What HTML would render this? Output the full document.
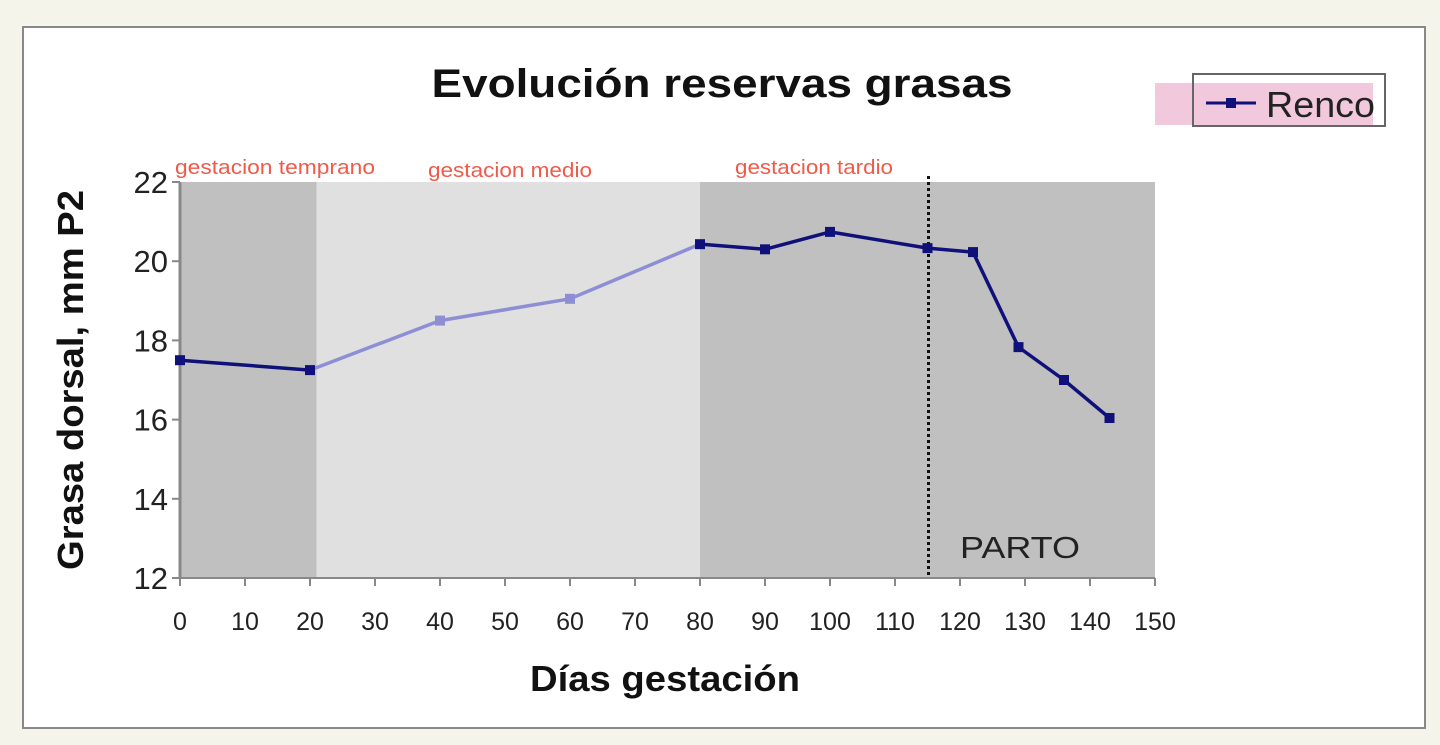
<!DOCTYPE html>
<html><head><meta charset="utf-8"><style>
html,body{margin:0;padding:0;background:#f4f4ea;width:1440px;height:745px;overflow:hidden}
svg{display:block;font-family:"Liberation Sans",sans-serif}
</style></head><body>
<svg width="1440" height="745">
<rect x="23" y="27" width="1402" height="701" fill="#fff" stroke="#888" stroke-width="2"/>
<text x="722" y="97" text-anchor="middle" font-size="40" font-weight="bold" fill="#111" textLength="581" lengthAdjust="spacingAndGlyphs">Evolución reservas grasas</text>
<g>
<rect x="1155" y="83" width="218" height="42" fill="#f2c8dc"/>
<rect x="1193" y="74" width="192" height="52" fill="none" stroke="#666" stroke-width="2"/>
<line x1="1206" y1="103" x2="1256" y2="103" stroke="#10107a" stroke-width="3"/>
<rect x="1226" y="98" width="10" height="10" fill="#10107a"/>
<text x="1266" y="117" font-size="36" fill="#222" textLength="109" lengthAdjust="spacingAndGlyphs">Renco</text>
</g>
<g id="plot"></g>
<text x="960" y="558" font-size="31" fill="#222" textLength="120" lengthAdjust="spacingAndGlyphs">PARTO</text>
<text transform="translate(83,380) rotate(-90)" text-anchor="middle" font-size="36" font-weight="bold" fill="#111" textLength="380" lengthAdjust="spacingAndGlyphs">Grasa dorsal, mm P2</text>
<text x="665" y="691" text-anchor="middle" font-size="36" font-weight="bold" fill="#111" textLength="270" lengthAdjust="spacingAndGlyphs">Días gestación</text>
</svg>
<script>
const days=[0,20,40,60,80,90,100,115,122,129,136,143];
const fat=[17.5,17.25,18.5,19.05,20.43,20.3,20.74,20.33,20.23,17.83,17.0,16.04];
const xTicks=[0,10,20,30,40,50,60,70,80,90,100,110,120,130,140,150];
const yTicks=[12,14,16,18,20,22];
const phases=[{from:0,to:21,label:"gestacion temprano",dark:true},{from:21,to:80,label:"gestacion medio",dark:false},{from:80,to:150,label:"gestacion tardio",dark:true}];
const partoDay=115;
const X=d=>180+d*6.5, Y=v=>578-(v-12)*39.6;
const NS="http://www.w3.org/2000/svg";
const g=document.getElementById('plot');
function mk(t,a){const e=document.createElementNS(NS,t);for(const k in a)e.setAttribute(k,a[k]);g.appendChild(e);return e;}
const labelX=[275,510,814];
const labelW=[200,164,158];
phases.forEach((p,i)=>{
 const r=mk('rect',{x:X(p.from),y:Y(22),width:X(p.to)-X(p.from),height:Y(12)-Y(22),fill:p.dark?'#c0c0c0':'#e0e0e0'});
 
 
 const t=mk('text',{x:labelX[i],y:i==1?177:174,'text-anchor':'middle','font-size':20,fill:'#f05a4a',textLength:labelW[i],lengthAdjust:'spacingAndGlyphs'});
 t.textContent=p.label;
 
 
});
mk('line',{x1:X(0),y1:Y(22),x2:X(0),y2:Y(12)+1,stroke:'#888','stroke-width':3});
mk('line',{x1:X(0),y1:Y(12),x2:X(150),y2:Y(12),stroke:'#888','stroke-width':2});
yTicks.forEach(v=>{
 mk('line',{x1:X(0)-8,y1:Y(v),x2:X(0),y2:Y(v),stroke:'#888','stroke-width':2});
 const t=mk('text',{x:X(0)-12,y:Y(v)+11,'text-anchor':'end','font-size':31,fill:'#222'});
 t.textContent=v;
 
 
});
xTicks.forEach(v=>{
 mk('line',{x1:X(v),y1:Y(12),x2:X(v),y2:Y(12)+8,stroke:'#888','stroke-width':2});
 const t=mk('text',{x:X(v),y:630,'text-anchor':'middle','font-size':25,fill:'#222'});
 t.textContent=v;
 
 
});
const pl=mk('line',{x1:X(partoDay)+1,y1:Y(22)-6,x2:X(partoDay)+1,y2:Y(12),stroke:'#111','stroke-width':3,'stroke-dasharray':'3,3'});


const col=d=>(d>20&&d<=80)?'#8e8ed4':'#10107a';
for(let i=0;i<days.length-1;i++){
 const s=mk('line',{x1:X(days[i]),y1:Y(fat[i]),x2:X(days[i+1]),y2:Y(fat[i+1]),stroke:col(days[i+1]),'stroke-width':3.5});
 
 
}
days.forEach((d,i)=>{
 const c=(d>20&&d<=60)?'#8e8ed4':'#10107a';
 const m=mk('rect',{x:X(d)-5,y:Y(fat[i])-5,width:10,height:10,fill:c});
 
 
});
</script>
</body></html>
